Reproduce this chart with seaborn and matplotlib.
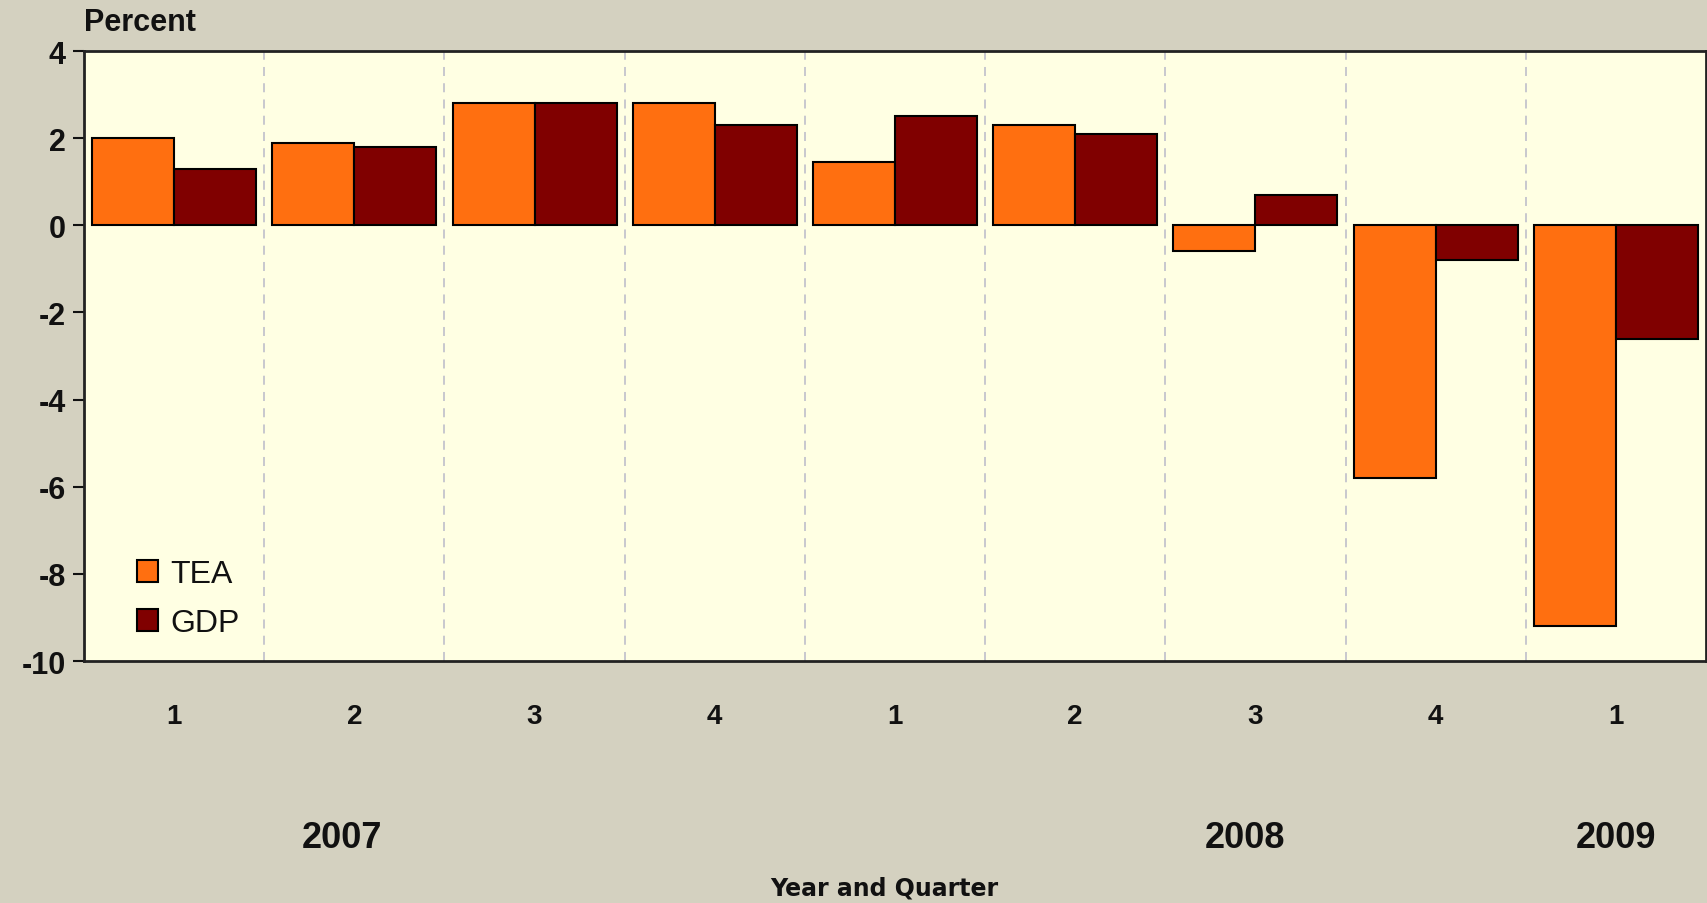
import matplotlib.pyplot as plt
import seaborn as sns
import pandas as pd

# Data (percent change)
periods = ['2007Q1', '2007Q2', '2007Q3', '2007Q4', '2008Q1', '2008Q2', '2008Q3', '2008Q4', '2009Q1']
quarters = ['1', '2', '3', '4', '1', '2', '3', '4', '1']
tea = [2.0, 1.9, 2.8, 2.8, 1.45, 2.3, -0.6, -5.8, -9.2]
gdp = [1.3, 1.8, 2.8, 2.3, 2.5, 2.1, 0.7, -0.8, -2.6]
years = ['2007', '2008', '2009']
year_pos = [0.93, 5.94, 8.0]

df = pd.DataFrame({
    'period': periods * 2,
    'series': ['TEA'] * len(tea) + ['GDP'] * len(gdp),
    'value': tea + gdp,
})

sns.set_style('ticks')
plt.rcParams['font.family'] = ['Liberation Sans', 'DejaVu Sans']
plt.rcParams['axes.unicode_minus'] = False
plt.rcParams['text.color'] = '#111111'
plt.rcParams['xtick.color'] = '#111111'
plt.rcParams['ytick.color'] = '#111111'

fig = plt.figure(figsize=(17.08, 9.04), dpi=100, facecolor='#d4d1c0')
ax = fig.add_axes([84 / 1708, 1 - 662 / 904, (1706 - 84) / 1708, 610 / 904])
ax.set_facecolor('#ffffe3')

sns.barplot(data=df, x='period', y='value', hue='series',
            palette={'TEA': '#ff6f10', 'GDP': '#800000'}, saturation=1,
            width=0.91, edgecolor='black', linewidth=1.5, ax=ax)

# dashed separators between quarters
for i in range(len(periods) - 1):
    ax.axvline(i + 0.5, color='#c4c4cc', linestyle=(0, (5, 4)), linewidth=1.3, zorder=0)

ax.set_xlim(-0.5, len(periods) - 0.5)
ax.set_ylim(-10, 4)
ax.set_yticks(range(-10, 5, 2))
ax.set_xticks(range(len(periods)))
ax.set_xticklabels(quarters, fontsize=20, fontweight='bold')
ax.tick_params(axis='x', length=0, pad=30)
ax.tick_params(axis='y', length=8, width=1.5, labelsize=22, pad=5)
for lab in ax.get_yticklabels():
    lab.set_fontweight('bold')
ax.set_xlabel('')
ax.set_ylabel('')
for sp in ax.spines.values():
    sp.set_visible(True)
    sp.set_linewidth(2)
    sp.set_color('#222222')

# year labels under the quarters
for yr, xp in zip(years, year_pos):
    ax.text(xp, -0.29, yr, transform=ax.get_xaxis_transform(), ha='center', va='center',
            fontsize=26, fontweight='bold')

handles, labels = ax.get_legend_handles_labels()
ax.legend(handles, labels, loc='lower left', bbox_to_anchor=(0.015, -0.01), frameon=False,
          fontsize=23, handlelength=0.65, handleheight=0.65, handletextpad=0.4, labelspacing=0.6)

fig.text(84 / 1708, 1 - 23 / 904, 'Percent', ha='left', va='center', fontsize=22, fontweight='bold')
fig.text(884 / 1708, 1 - 889 / 904, 'Year and Quarter', ha='center', va='center',
         fontsize=17, fontweight='bold', family=['DejaVu Sans'])

fig.savefig('out.png', dpi=100, facecolor=fig.get_facecolor())
